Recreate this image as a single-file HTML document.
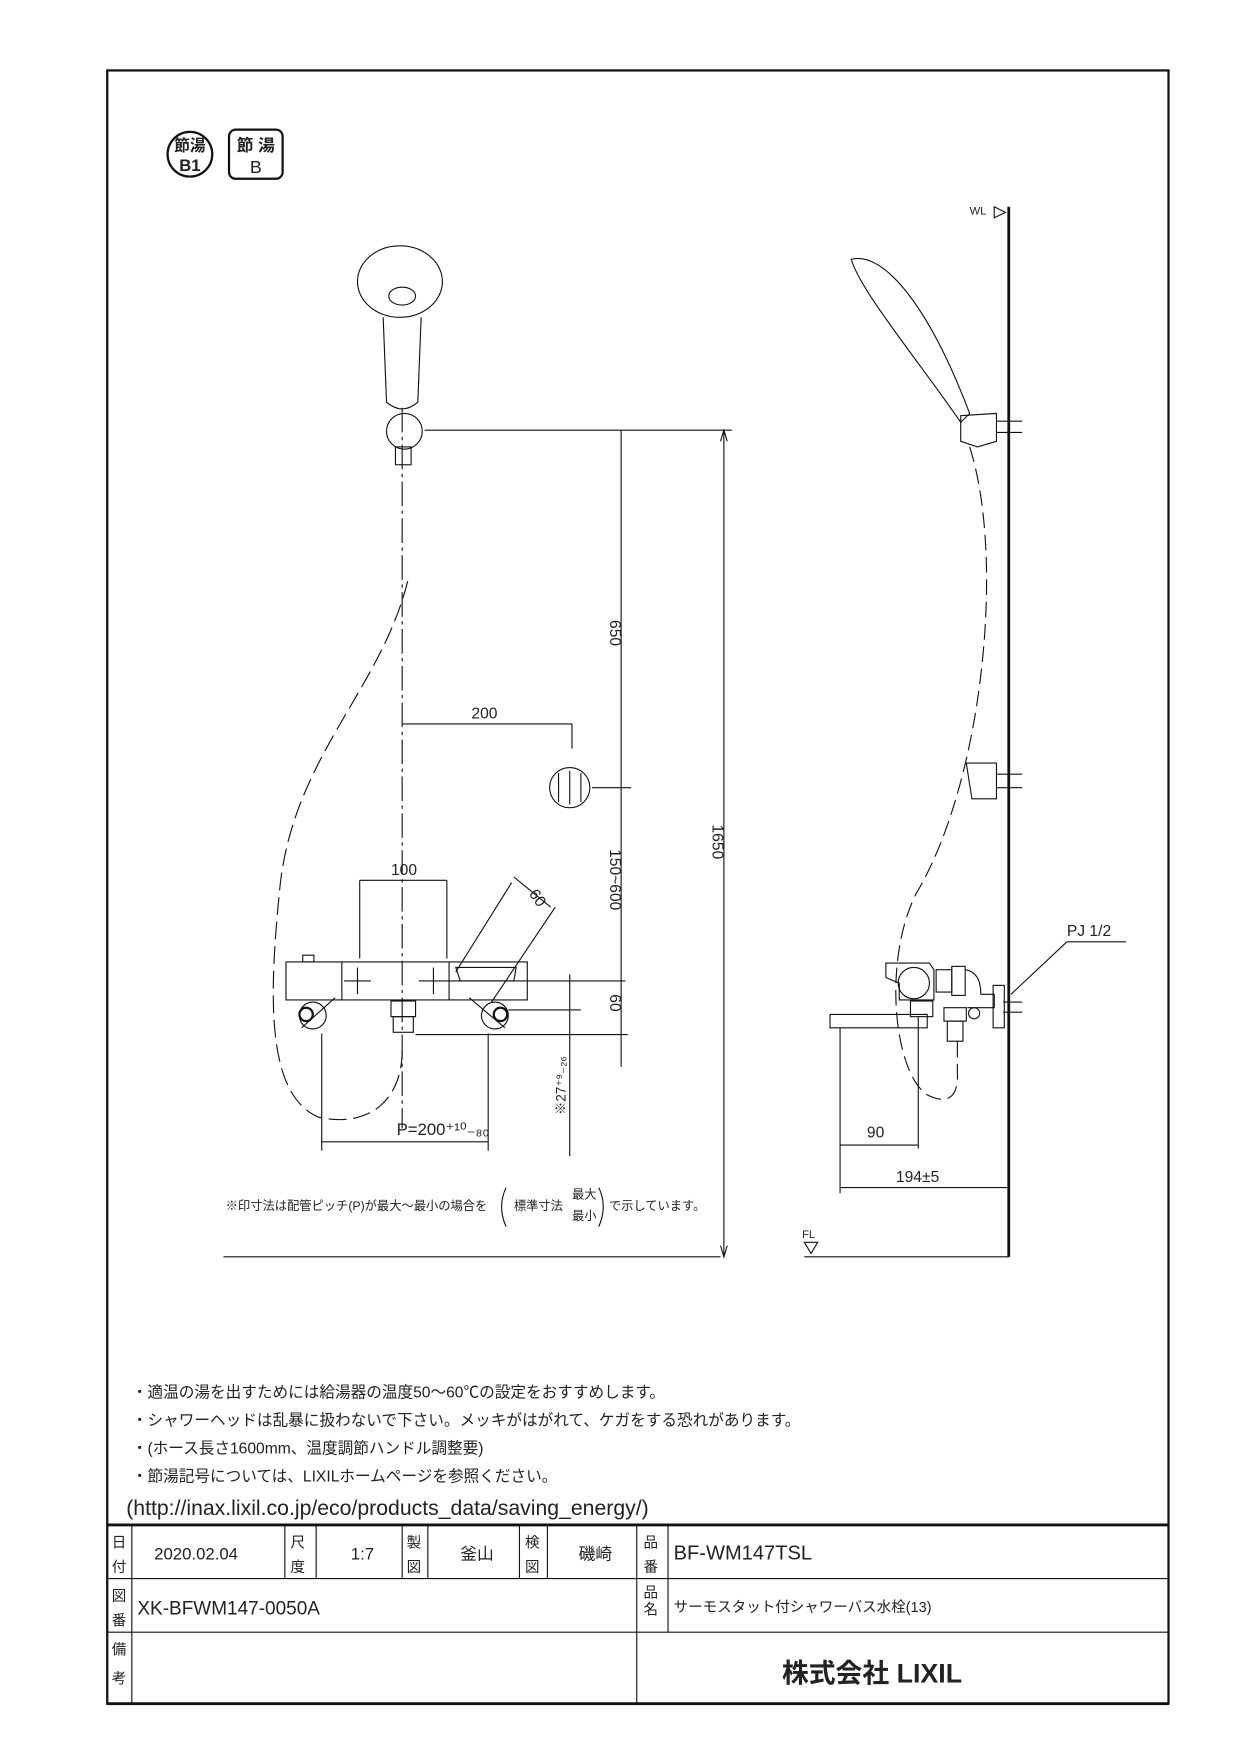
<!DOCTYPE html>
<html><head><meta charset="utf-8"><style>
html,body{margin:0;padding:0;background:#fff}
svg{display:block}
text{font-family:"Liberation Sans","Noto Sans CJK JP",sans-serif;fill:#222}
</style></head><body>
<svg width="1240" height="1754" viewBox="0 0 1110 1570" xmlns="http://www.w3.org/2000/svg">
<g fill="none" stroke="#111" stroke-width="1">
<rect x="96" y="63" width="950" height="1462" stroke-width="2"/>
<circle cx="170" cy="138" r="20" stroke-width="2"/>
<rect x="205" y="116" width="48" height="44" rx="6" stroke-width="2"/>
<ellipse cx="358" cy="252" rx="38" ry="32"/>
<ellipse cx="360" cy="265" rx="12" ry="8"/>
<path d="M343 284 L346 360 Q360 372 374 360 L377 284"/>
<circle cx="362" cy="386" r="16"/>
<rect x="354" y="400" width="14" height="16"/>
<line x1="360" y1="365" x2="360" y2="1010" stroke-dasharray="22,4,3,4"/>
<path d="M365 520 C340 620 260 680 250 800 C240 900 240 980 285 1000 C330 1010 360 985 360 940" stroke-dasharray="16,6"/>
<line x1="380" y1="385" x2="655" y2="385"/>
<line x1="648" y1="385" x2="648" y2="1125"/>
<path d="M645 395 L648 385 L651 395 M645 1115 L648 1125 L651 1115"/>
<line x1="556" y1="385" x2="556" y2="955"/>
<line x1="530" y1="705" x2="565" y2="705"/>
<line x1="360" y1="648" x2="512" y2="648"/>
<line x1="512" y1="648" x2="512" y2="670"/>
<circle cx="510" cy="705" r="18"/>
<line x1="500" y1="692" x2="500" y2="718"/><line x1="510" y1="690" x2="510" y2="720"/><line x1="520" y1="692" x2="520" y2="718"/>
<line x1="322" y1="788" x2="400" y2="788"/>
<line x1="322" y1="788" x2="322" y2="858"/>
<line x1="400" y1="788" x2="400" y2="858"/>
<line x1="408" y1="870" x2="458" y2="790"/>
<line x1="460" y1="785" x2="493" y2="812"/>
<line x1="440" y1="897" x2="497" y2="812"/>
<path d="M256 861 L472 861 L472 895 L256 895 Z"/>
<line x1="306" y1="861" x2="306" y2="895"/>
<line x1="402" y1="861" x2="402" y2="895"/>
<rect x="271" y="855" width="10" height="6"/>
<path d="M408 866 L462 866 L460 878 L412 878 Z"/>
<line x1="308" y1="878" x2="332" y2="878"/><line x1="320" y1="866" x2="320" y2="890"/>
<line x1="375" y1="878" x2="400" y2="878"/><line x1="388" y1="866" x2="388" y2="890"/>
<circle cx="280" cy="909" r="12"/><circle cx="443" cy="909" r="12"/>
<circle cx="274" cy="908" r="6" stroke-width="2"/><circle cx="448" cy="908" r="6" stroke-width="2"/>
<line x1="270" y1="920" x2="300" y2="893"/><line x1="452" y1="920" x2="420" y2="893"/>
<rect x="350" y="896" width="22" height="14"/>
<rect x="352" y="910" width="18" height="14"/>
<line x1="400" y1="878" x2="560" y2="878"/>
<line x1="455" y1="904" x2="520" y2="904"/>
<line x1="372" y1="926" x2="562" y2="926"/>
<line x1="510" y1="872" x2="510" y2="1035"/>
<line x1="288" y1="925" x2="288" y2="1030"/>
<line x1="437" y1="925" x2="437" y2="1030"/>
<line x1="288" y1="1022" x2="437" y2="1022"/>
<line x1="200" y1="1125" x2="645" y2="1125"/>
<path d="M453 1063 Q445 1080 453 1098"/><path d="M536 1063 Q544 1080 536 1098"/>
<line x1="903" y1="185" x2="903" y2="1125" stroke-width="2.5"/>
<line x1="720" y1="1125" x2="903" y2="1125"/>
<path d="M720 1112 L732 1112 L726 1122 Z"/>
<path d="M890 185 L900 190 L890 195 Z"/>
<path d="M762 232 C790 225 830 270 868 370 L860 378 C820 320 770 260 762 232 Z"/>
<path d="M860 372 L892 370 L892 395 L875 400 L860 395 Z"/>
<line x1="892" y1="377" x2="915" y2="377"/><line x1="892" y1="387" x2="915" y2="387"/>
<path d="M865 683 L892 683 L892 715 L870 715 Z"/>
<line x1="892" y1="693" x2="915" y2="693"/><line x1="892" y1="705" x2="915" y2="705"/>
<path d="M868 400 C900 500 880 700 820 800 C790 860 800 960 830 980 C850 990 858 980 857 960 L857 928" stroke-dasharray="14,6"/>
<circle cx="818" cy="880" r="14"/>
<path d="M793 862 L832 862 L836 868 L836 895 L805 895 L805 880 L793 875 Z"/>
<rect x="852" y="865" width="12" height="26"/>
<rect x="838" y="868" width="14" height="20"/>
<rect x="815" y="896" width="20" height="14"/>
<path d="M743 908 L830 908 L830 920 L743 920 Z"/>
<rect x="845" y="902" width="20" height="12"/>
<rect x="848" y="914" width="14" height="18"/>
<path d="M864 868 Q878 870 878 890 L890 890 L890 902 L866 902"/>
<rect x="889" y="882" width="10" height="38"/>
<line x1="898" y1="897" x2="915" y2="897"/><line x1="898" y1="906" x2="915" y2="906"/>
<circle cx="872" cy="907" r="5"/>
<line x1="752" y1="920" x2="752" y2="1068"/>
<line x1="822" y1="910" x2="822" y2="1028"/>
<line x1="752" y1="1025" x2="822" y2="1025"/>
<line x1="752" y1="1063" x2="903" y2="1063"/>
<line x1="905" y1="890" x2="955" y2="843"/>
<line x1="955" y1="843" x2="1008" y2="843"/>
<line x1="96" y1="1365" x2="1046" y2="1365" stroke-width="2.5"/>
<line x1="96" y1="1413" x2="1046" y2="1413"/>
<line x1="96" y1="1461" x2="1046" y2="1461"/>
<line x1="96" y1="1525" x2="1046" y2="1525" stroke-width="2.5"/>
<line x1="118" y1="1365" x2="118" y2="1525"/>
<line x1="255" y1="1365" x2="255" y2="1413"/><line x1="283" y1="1365" x2="283" y2="1413"/>
<line x1="360" y1="1365" x2="360" y2="1413"/><line x1="383" y1="1365" x2="383" y2="1413"/>
<line x1="465" y1="1365" x2="465" y2="1413"/><line x1="490" y1="1365" x2="490" y2="1413"/>
<line x1="570" y1="1365" x2="570" y2="1525"/>
<line x1="598" y1="1365" x2="598" y2="1461"/>
</g>
<g font-size="13">
<text x="170" y="135" text-anchor="middle" font-size="14" font-weight="bold">節湯</text>
<text x="170" y="153" text-anchor="middle" font-size="15" font-weight="bold">B1</text>
<text x="229" y="135" text-anchor="middle" font-size="15" font-weight="bold">節 湯</text>
<text x="229" y="155" text-anchor="middle" font-size="16">B</text>
<text x="422" y="643" font-size="14">200</text>
<text x="350" y="783" font-size="14">100</text>
<text x="473" y="800" font-size="14" transform="rotate(55 473 800)">60</text>
<text x="546" y="555" font-size="14" transform="rotate(90 546 555)">650</text>
<text x="546" y="760" font-size="14" transform="rotate(90 546 760)">150~600</text>
<text x="546" y="890" font-size="14" transform="rotate(90 546 890)">60</text>
<text x="638" y="738" font-size="14" transform="rotate(90 638 738)">1650</text>
<text x="506" y="998" font-size="12" transform="rotate(-90 506 998)">※27⁺⁹₋₂₆</text>
<text x="355" y="1016" font-size="15">P=200⁺¹⁰₋₈₀</text>
<text x="202" y="1083" font-size="11">※印寸法は配管ピッチ(P)が最大～最小の場合を</text>
<text x="460" y="1083" font-size="11">標準寸法</text>
<text x="512" y="1073" font-size="11">最大</text>
<text x="512" y="1092" font-size="11">最小</text>
<text x="545" y="1083" font-size="11">で示しています。</text>
<text x="868" y="192" font-size="10">WL</text>
<text x="718" y="1108" font-size="10">FL</text>
<text x="955" y="838" font-size="14">PJ 1/2</text>
<text x="776" y="1018" font-size="14">90</text>
<text x="802" y="1058" font-size="14">194±5</text>
<g font-size="14" fill="#333">
<text x="118" y="1251">・適温の湯を出すためには給湯器の温度50～60℃の設定をおすすめします。</text>
<text x="118" y="1276">・シャワーヘッドは乱暴に扱わないで下さい。メッキがはがれて、ケガをする恐れがあります。</text>
<text x="118" y="1301">・(ホース長さ1600mm、温度調節ハンドル調整要)</text>
<text x="118" y="1326">・節湯記号については、LIXILホームページを参照ください。</text>
<text x="113" y="1356" font-size="19">(http://inax.lixil.co.jp/eco/products_data/saving_energy/)</text>
</g>
<text x="100" y="1385">日</text><text x="100" y="1407">付</text>
<text x="138" y="1396" font-size="15">2020.02.04</text>
<text x="260" y="1385">尺</text><text x="260" y="1407">度</text>
<text x="314" y="1396" font-size="15">1:7</text>
<text x="364" y="1385">製</text><text x="364" y="1407">図</text>
<text x="412" y="1396" font-size="15">釜山</text>
<text x="470" y="1385">検</text><text x="470" y="1407">図</text>
<text x="518" y="1396" font-size="15">磯崎</text>
<text x="576" y="1385">品</text><text x="576" y="1407">番</text>
<text x="603" y="1396" font-size="18">BF-WM147TSL</text>
<text x="100" y="1433">図</text><text x="100" y="1455">番</text>
<text x="123" y="1445" font-size="17">XK-BFWM147-0050A</text>
<text x="576" y="1430">品</text><text x="576" y="1445">名</text>
<text x="603" y="1443" font-size="13">サーモスタット付シャワーバス水栓(13)</text>
<text x="100" y="1481">備</text><text x="100" y="1507">考</text>
<text x="700" y="1506" font-size="24" font-weight="bold" fill="#000">株式会社 LIXIL</text>
</g>
</svg>
</body></html>
